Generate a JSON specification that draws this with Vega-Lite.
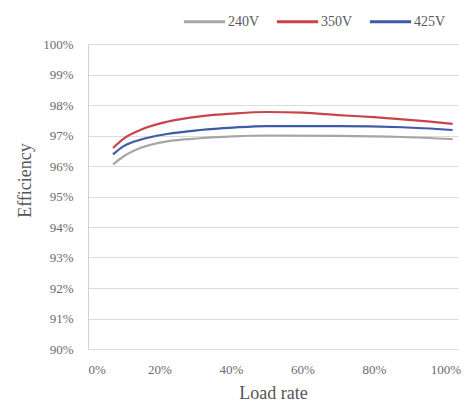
{
  "$schema": "https://vega.github.io/schema/vega-lite/v6.json",
  "width": 370,
  "height": 305,
  "autosize": {"type": "none"},
  "padding": {"left": 88, "top": 44, "right": 12, "bottom": 57},
  "background": "white",
  "config": {
    "view": {"stroke": null},
    "font": "Liberation Serif"
  },
  "data": {
    "values": [
      {"series": "240V", "load": 0.07, "eff": 0.9605},
      {"series": "240V", "load": 0.10, "eff": 0.9632},
      {"series": "240V", "load": 0.146, "eff": 0.9659},
      {"series": "240V", "load": 0.221, "eff": 0.9681},
      {"series": "240V", "load": 0.314, "eff": 0.9691},
      {"series": "240V", "load": 0.406, "eff": 0.9697},
      {"series": "240V", "load": 0.50, "eff": 0.9700},
      {"series": "240V", "load": 0.70, "eff": 0.9699},
      {"series": "240V", "load": 0.88, "eff": 0.9695},
      {"series": "240V", "load": 1.02, "eff": 0.9688},
      {"series": "350V", "load": 0.07, "eff": 0.9659},
      {"series": "350V", "load": 0.10, "eff": 0.9690},
      {"series": "350V", "load": 0.146, "eff": 0.9718},
      {"series": "350V", "load": 0.221, "eff": 0.9745},
      {"series": "350V", "load": 0.314, "eff": 0.9763},
      {"series": "350V", "load": 0.406, "eff": 0.9772},
      {"series": "350V", "load": 0.50, "eff": 0.9777},
      {"series": "350V", "load": 0.60, "eff": 0.9775},
      {"series": "350V", "load": 0.70, "eff": 0.9767},
      {"series": "350V", "load": 0.80, "eff": 0.9760},
      {"series": "350V", "load": 0.88, "eff": 0.9753},
      {"series": "350V", "load": 0.95, "eff": 0.9746},
      {"series": "350V", "load": 1.02, "eff": 0.9738},
      {"series": "425V", "load": 0.07, "eff": 0.9638},
      {"series": "425V", "load": 0.10, "eff": 0.9665},
      {"series": "425V", "load": 0.146, "eff": 0.9686},
      {"series": "425V", "load": 0.221, "eff": 0.9705},
      {"series": "425V", "load": 0.314, "eff": 0.9718},
      {"series": "425V", "load": 0.406, "eff": 0.9726},
      {"series": "425V", "load": 0.50, "eff": 0.9731},
      {"series": "425V", "load": 0.70, "eff": 0.9731},
      {"series": "425V", "load": 0.88, "eff": 0.9727},
      {"series": "425V", "load": 1.02, "eff": 0.9718}
    ]
  },
  "mark": {"type": "line", "interpolate": "monotone", "strokeWidth": 2.2},
  "encoding": {
    "x": {
      "field": "load", "type": "quantitative",
      "scale": {"domain": [0, 1.035], "nice": false, "zero": false},
      "axis": {
        "values": [0, 0.2, 0.4, 0.6, 0.8, 1.0],
        "format": ".0%",
        "title": "Load rate",
        "grid": false, "domain": false, "ticks": false,
        "labelFont": "Liberation Serif", "labelFontSize": 13, "labelColor": "#6b6b6b",
        "labelPadding": 14,
        "titleFont": "Liberation Serif", "titleFontSize": 18, "titleFontWeight": "normal", "titleColor": "#555555",
        "titlePadding": 8
      }
    },
    "y": {
      "field": "eff", "type": "quantitative",
      "scale": {"domain": [0.90, 1.0], "nice": false, "zero": false},
      "axis": {
        "values": [0.90, 0.91, 0.92, 0.93, 0.94, 0.95, 0.96, 0.97, 0.98, 0.99, 1.0],
        "format": ".0%",
        "title": "Efficiency",
        "grid": true, "gridColor": "#dcdcdc", "gridWidth": 1,
        "domain": true, "domainColor": "#d0d0d0",
        "ticks": false,
        "labelFont": "Liberation Serif", "labelFontSize": 13, "labelColor": "#6b6b6b",
        "labelPadding": 15,
        "titleFont": "Liberation Serif", "titleFontSize": 18, "titleFontWeight": "normal", "titleColor": "#555555",
        "titleX": -63, "titleY": 136, "titleAngle": 270, "titleAlign": "center", "titleBaseline": "middle"
      }
    },
    "color": {
      "field": "series", "type": "nominal",
      "scale": {"domain": ["240V", "350V", "425V"], "range": ["#a6a6a6", "#c9434b", "#3f5aa6"]},
      "legend": {
        "title": null,
        "orient": "none",
        "direction": "horizontal",
        "legendX": 94,
        "legendY": -45,
        "symbolType": "stroke",
        "symbolSize": 1700,
        "symbolStrokeWidth": 3,
        "labelFont": "Liberation Serif",
        "labelFontSize": 14,
        "labelColor": "#595959",
        "labelOffset": 1,
        "columnPadding": 10
      }
    }
  }
}
